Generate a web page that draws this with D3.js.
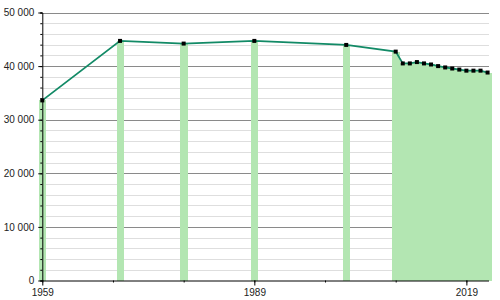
<!DOCTYPE html>
<html>
<head>
<meta charset="utf-8">
<script src="https://cdn.jsdelivr.net/npm/d3@7"></script>
<style>
	body { margin: 0; background: #fff; }
	svg text { font-family: "Liberation Sans", Arial, sans-serif; font-size: 10px; fill: #222; }
</style>
</head>
<body>
<svg id="chart" width="500" height="300"></svg>
<script>
var years = [1959, 1970, 1979, 1989, 2002, 2009, 2010, 2011, 2012, 2013, 2014, 2015, 2016, 2017, 2018, 2019, 2020, 2021, 2022];
var population = [33600, 44700, 44200, 44700, 43950, 42700, 40500, 40500, 40750, 40500, 40300, 40000, 39750, 39550, 39350, 39150, 39150, 39150, 38800];
var yTicks = [0, 10000, 20000, 30000, 40000, 50000];
var xLabels = [1959, 1989, 2019];

var svg = d3.select("#chart");
var x = d3.scaleLinear().domain([1959, 2022.2]).range([42.3, 489]);
var y = d3.scaleLinear().domain([0, 50000]).range([280.5, 12.5]);

var data = [];
for (var i = 0; i < years.length; i++){
	data.push({year: years[i], value: population[i]});
}

//grid lines, minor then major
var minor = d3.range(0, 50001, 2000).filter(function(d){ return d % 10000 != 0; });
svg.selectAll(".minor")
	.data(minor)
	.enter().append("line")
		.attr("x1", x(1959))
		.attr("x2", x.range()[1])
		.attr("y1", function(d){ return Math.round(y(d)) + 0.5; })
		.attr("y2", function(d){ return Math.round(y(d)) + 0.5; })
		.attr("stroke", "#dedede")
		.attr("stroke-width", 1);
svg.selectAll(".major")
	.data(yTicks.slice(1))
	.enter().append("line")
		.attr("x1", x(1959))
		.attr("x2", x.range()[1])
		.attr("y1", function(d){ return Math.round(y(d)) + 0.5; })
		.attr("y2", function(d){ return Math.round(y(d)) + 0.5; })
		.attr("stroke", "#8a8a8a")
		.attr("stroke-width", 1);

//one bar per data point, a year wide (overlap a bit so the yearly run has no seams)
svg.selectAll(".bar")
	.data(data)
	.enter().append("rect")
		.attr("x", function(d){ return x(d.year - 0.5); })
		.attr("width", function(d){ return x(d.year + 0.5) - x(d.year - 0.5) + 0.6; })
		.attr("y", function(d){ return y(d.value); })
		.attr("height", function(d){ return y(0) - y(d.value); })
		.attr("fill", "#b3e6b2")
		.attr("shape-rendering", "crispEdges");

//axes
var yAxis = d3.axisLeft(y)
	.tickValues(d3.range(0, 50001, 2000))
	.tickSize(2)
	.tickFormat("");
svg.append("g")
	.attr("transform", "translate(" + x(1959) + ",0)")
	.call(yAxis)
	.call(function(g){
		g.selectAll("path").attr("stroke", "#000");
		g.selectAll("line").attr("stroke", "#000");
	});
svg.append("g")
	.attr("transform", "translate(" + x(1959) + ",0)")
	.call(d3.axisLeft(y)
		.tickValues(yTicks)
		.tickSize(4)
		.tickPadding(4)
		.tickFormat(function(d){ return d3.format(",")(d).replace(/,/g, " "); }))
	.call(function(g){
		g.select(".domain").remove();
		g.selectAll("line").attr("stroke", "#000");
		g.selectAll("text").attr("fill", "#222").style("font-size", "10px").attr("font-family", null);
	});

svg.append("g")
	.attr("transform", "translate(0," + y(0) + ")")
	.call(d3.axisBottom(x)
		.tickValues(d3.range(1959, 2020, 10))
		.tickSize(2)
		.tickFormat(""))
	.call(function(g){
		g.select(".domain").attr("stroke", "#000").attr("d", "M" + x(1959) + ",0.5H" + x.range()[1]);
		g.selectAll("line").attr("stroke", "#000");
	});
svg.append("g")
	.attr("transform", "translate(0," + y(0) + ")")
	.call(d3.axisBottom(x)
		.tickValues(xLabels)
		.tickSize(5)
		.tickPadding(3)
		.tickFormat(d3.format("d")))
	.call(function(g){
		g.select(".domain").remove();
		g.selectAll("line").attr("stroke", "#000");
		g.selectAll("text").attr("fill", "#222").style("font-size", "10px").attr("font-family", null);
	});

//population line and markers
var line = d3.line()
	.x(function(d){ return x(d.year); })
	.y(function(d){ return y(d.value); });
svg.append("path")
	.datum(data)
	.attr("d", line)
	.attr("fill", "none")
	.attr("stroke", "#128a66")
	.attr("stroke-width", 1.8);

svg.selectAll(".dot")
	.data(data)
	.enter().append("rect")
		.attr("x", function(d){ return x(d.year) - 2; })
		.attr("y", function(d){ return y(d.value) - 2; })
		.attr("width", 4)
		.attr("height", 4)
		.attr("fill", "#000");
</script>
</body>
</html>
